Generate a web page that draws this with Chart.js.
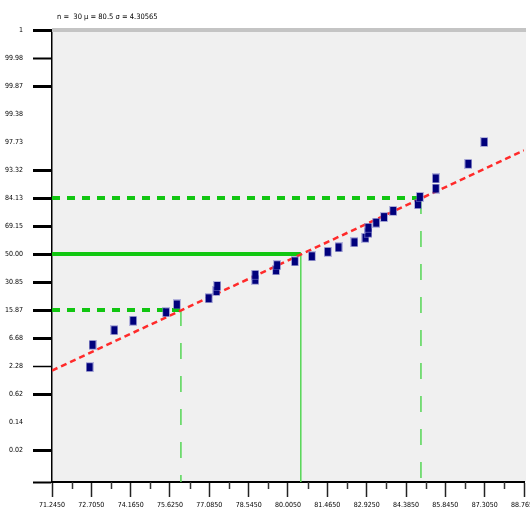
<!DOCTYPE html>
<html>
<head>
<meta charset="utf-8">
<script src="https://cdn.jsdelivr.net/npm/chart.js@4/dist/chart.umd.min.js"></script>
<style>
  html, body { margin: 0; padding: 0; background: #ffffff; }
  #wrap { width: 530px; height: 521px; }
</style>
</head>
<body>
<div id="wrap"><canvas id="c" width="530" height="521"></canvas></div>
<script>
// ---- data ----
const titleText = 'n =  30 μ = 80.5 σ = 4.30565';
const sampleValues = [72.64, 72.75, 73.56, 74.26, 75.48, 75.88, 77.06, 77.35, 77.38, 78.79,
                      78.79, 79.56, 79.60, 80.26, 80.89, 81.48, 81.88, 82.47, 82.88, 82.99,
                      82.99, 83.28, 83.57, 83.91, 84.83, 84.90, 85.49, 85.49, 86.70, 87.29];
const plotZ = [-2.02, -1.62, -1.36, -1.19, -1.04, -0.90, -0.79, -0.66, -0.57, -0.46,
               -0.37, -0.29, -0.20, -0.13, -0.04, 0.04, 0.12, 0.21, 0.29, 0.38,
               0.47, 0.56, 0.66, 0.77, 0.89, 1.02, 1.17, 1.35, 1.61, 2.00];
const fitLineX = [71.245, 88.765];
const fitLineZ = [-2.08, 1.85];
const meanX = 80.48;
const sigmaLowX = 76.03;
const sigmaHighX = 84.94;
const yTickZ = [-4.07, -3.5, -3, -2.5, -2, -1.5, -1, -0.5, 0, 0.5, 1, 1.5, 2, 2.5, 3, 3.5, 4];
const yTickLabels = ['', '0.02', '0.14', '0.62', '2.28', '6.68', '15.87', '30.85', '50.00',
                     '69.15', '84.13', '93.32', '97.73', '99.38', '99.87', '99.98', '1'];
const yTickWidths = [2, 3, 0, 3, 1.5, 3, 3, 3, 3, 3, 3, 3, 0, 0, 3, 2, 3];
const xTickLabels = ['71.2450', '72.7050', '74.1650', '75.6250', '77.0850', '78.5450', '80.0050',
                     '81.4650', '82.9250', '84.3850', '85.8450', '87.3050', '88.7650'];

const X_MIN = parseFloat(xTickLabels[0]);
const X_MAX = parseFloat(xTickLabels[xTickLabels.length - 1]);
const Z_MIN = yTickZ[0];
const Z_MAX = yTickZ[yTickZ.length - 1];

const FONT = "'Liberation Sans Narrow', 'DejaVu Sans Condensed', 'Liberation Sans', sans-serif";

// point marker (navy rectangle)
const marker = document.createElement('canvas');
marker.width = 8; marker.height = 10;
(function () {
  const m = marker.getContext('2d');
  m.fillStyle = 'rgba(120,120,200,0.5)';
  m.fillRect(0, 0, 8, 10);
  m.fillStyle = '#00007c';
  m.fillRect(1, 1, 6, 8);
})();

const pts = sampleValues.map((v, i) => ({ x: v, y: plotZ[i] }));
const fitPts = fitLineX.map((v, i) => ({ x: v, y: fitLineZ[i] }));

const GREEN = '#11c611';
const GREEN_THIN = '#55d655';

const bgPlugin = {
  id: 'bg',
  beforeDraw(chart) {
    const { ctx, chartArea: a } = chart;
    ctx.save();
    ctx.fillStyle = '#f0f0f0';
    ctx.fillRect(a.left, a.top, a.right - a.left + 2, a.bottom - a.top);
    ctx.restore();
  },
  afterDraw(chart) {
    const { ctx, chartArea: a } = chart;
    const xs = chart.scales.x;
    ctx.save();
    // top grey band
    ctx.fillStyle = '#c4c4c4';
    ctx.fillRect(a.left, a.top - 2, a.right - a.left + 2, 4);
    // minor x ticks
    ctx.strokeStyle = '#333';
    ctx.lineWidth = 1.5;
    for (let i = 0; i < xTickLabels.length - 1; i++) {
      const v = (parseFloat(xTickLabels[i]) + parseFloat(xTickLabels[i + 1])) / 2;
      const px = Math.round(xs.getPixelForValue(v)) + 0.5;
      ctx.beginPath();
      ctx.moveTo(px, a.bottom);
      ctx.lineTo(px, a.bottom + 7);
      ctx.stroke();
    }
    // title text
    ctx.fillStyle = '#000';
    ctx.font = '7.5px ' + FONT;
    ctx.textBaseline = 'middle';
    ctx.textAlign = 'left';
    ctx.fillText(titleText, 57, 17);
    ctx.restore();
  }
};

new Chart(document.getElementById('c'), {
  type: 'scatter',
  data: {
    datasets: [
      {
        label: 'data',
        data: pts,
        pointStyle: marker,
        pointRadius: 5,
        showLine: false
      },
      {
        label: 'fit',
        type: 'line',
        data: fitPts,
        borderColor: '#ff2a2a',
        borderWidth: 2.5,
        borderDash: [6, 4],
        pointRadius: 0,
        fill: false
      },
      {
        label: 'mean-h',
        type: 'line',
        data: [{ x: X_MIN, y: 0 }, { x: meanX, y: 0 }],
        borderColor: GREEN, borderWidth: 4, pointRadius: 0, fill: false
      },
      {
        label: 'mean-v',
        type: 'line',
        data: [{ x: meanX, y: 0 }, { x: meanX, y: Z_MIN }],
        borderColor: GREEN_THIN, borderWidth: 1.5, pointRadius: 0, fill: false
      },
      {
        label: 'hi-h',
        type: 'line',
        data: [{ x: X_MIN, y: 1 }, { x: sigmaHighX, y: 1 }],
        borderColor: GREEN, borderWidth: 4, borderDash: [8, 7], pointRadius: 0, fill: false
      },
      {
        label: 'hi-v',
        type: 'line',
        data: [{ x: sigmaHighX, y: 1 }, { x: sigmaHighX, y: Z_MIN }],
        borderColor: GREEN_THIN, borderWidth: 1.5, borderDash: [16, 17], pointRadius: 0, fill: false
      },
      {
        label: 'lo-h',
        type: 'line',
        data: [{ x: X_MIN, y: -1 }, { x: sigmaLowX, y: -1 }],
        borderColor: GREEN, borderWidth: 4, borderDash: [8, 7], pointRadius: 0, fill: false
      },
      {
        label: 'lo-v',
        type: 'line',
        data: [{ x: sigmaLowX, y: -1 }, { x: sigmaLowX, y: Z_MIN }],
        borderColor: GREEN_THIN, borderWidth: 1.5, borderDash: [16, 17], pointRadius: 0, fill: false
      }
    ]
  },
  options: {
    responsive: false,
    animation: false,
    events: [],
    layout: { padding: { top: 30, right: 0, left: 0, bottom: 0 } },
    plugins: {
      legend: { display: false },
      tooltip: { enabled: false },
      title: { display: false }
    },
    scales: {
      x: {
        type: 'linear',
        min: X_MIN,
        max: X_MAX,
        afterBuildTicks(scale) {
          scale.ticks = xTickLabels.map(s => ({ value: parseFloat(s) }));
        },
        afterFit(scale) {
          scale.height = 39;
          scale.paddingLeft = 0;
          scale.paddingRight = 0;
        },
        border: { display: true, color: '#000', width: 2 },
        grid: {
          drawOnChartArea: false,
          drawTicks: true,
          tickLength: 15,
          tickWidth: 1.5,
          tickColor: '#222'
        },
        ticks: {
          autoSkip: false,
          maxRotation: 0,
          minRotation: 0,
          padding: 4,
          color: '#000',
          font: { family: FONT, size: 7 },
          callback: (v, i) => xTickLabels[i]
        }
      },
      y: {
        type: 'linear',
        min: Z_MIN,
        max: Z_MAX,
        afterBuildTicks(scale) {
          scale.ticks = yTickZ.map(v => ({ value: v }));
        },
        afterFit(scale) {
          scale.width = 52;
          scale.paddingTop = 0;
          scale.paddingBottom = 0;
        },
        border: { display: true, color: '#000', width: 1.5 },
        grid: {
          drawOnChartArea: false,
          drawTicks: true,
          tickLength: 19,
          tickWidth: ctx => yTickWidths[ctx.index] || 1,
          tickColor: ctx => (yTickWidths[ctx.index] ? '#000' : 'rgba(0,0,0,0)')
        },
        ticks: {
          autoSkip: false,
          padding: 10,
          color: '#000',
          font: { family: FONT, size: 7 },
          callback: (v, i) => yTickLabels[i]
        }
      }
    }
  },
  plugins: [bgPlugin]
});
</script>
</body>
</html>
